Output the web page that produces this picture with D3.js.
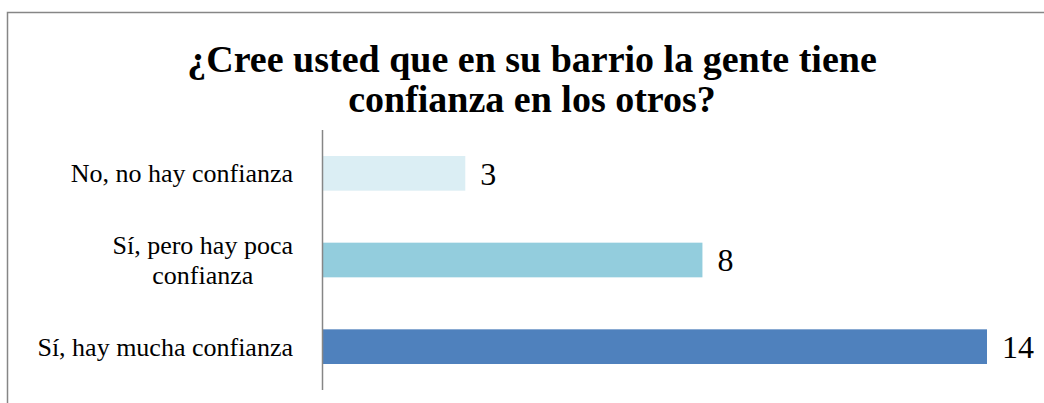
<!DOCTYPE html>
<html>
<head>
<meta charset="utf-8">
<script src="https://cdn.jsdelivr.net/npm/d3@7"></script>
<style>
  body { margin: 0; background: #fff; }
  text { font-family: "Liberation Serif", "Times New Roman", serif; fill: #000; }
</style>
</head>
<body>
<div id="chart"></div>
<script>
// chart data
var categories = ['No, no hay confianza', 'Sí, pero hay poca confianza', 'Sí, hay mucha confianza'];
var labelLines = [['No, no hay confianza'], ['Sí, pero hay poca', 'confianza'], ['Sí, hay mucha confianza']];
var values = [3, 8, 14];
var colors = ['#dbeef4', '#93cddd', '#4f81bd'];
var titleLines = ['¿Cree usted que en su barrio la gente tiene', 'confianza en los otros?'];

var width = 1044, height = 403;

var svg = d3.select('#chart')
  .append('svg')
  .attr('width', width)
  .attr('height', height);

// outer chart border (cut off on right and bottom)
svg.append('rect')
  .attr('x', 7.5).attr('y', 12.5)
  .attr('width', 1100).attr('height', 500)
  .attr('fill', 'none')
  .attr('stroke', '#868686')
  .attr('stroke-width', 1.5);

// title
svg.append('g').selectAll('text')
  .data(titleLines)
  .enter().append('text')
  .attr('x', 532)
  .attr('y', function(d, i) { return 72 + i * 40; })
  .attr('text-anchor', 'middle')
  .style('font-size', '38px')
  .style('font-weight', 'bold')
  .text(function(d) { return d; });

// scales
var x = d3.scaleLinear().domain([0, 14]).range([323, 987]);
var y = d3.scaleBand().domain(categories).range([130, 390]).paddingInner(0.6).paddingOuter(0.3);

// bars
svg.append('g').selectAll('rect')
  .data(values)
  .enter().append('rect')
  .attr('x', x(0))
  .attr('y', function(d, i) { return y(categories[i]); })
  .attr('width', function(d) { return x(d) - x(0); })
  .attr('height', y.bandwidth())
  .attr('fill', function(d, i) { return colors[i]; });

// value labels
svg.append('g').selectAll('text')
  .data(values)
  .enter().append('text')
  .attr('x', function(d) { return x(d) + 15; })
  .attr('y', function(d, i) { return y(categories[i]) + y.bandwidth() / 2; })
  .attr('dy', '0.35em')
  .style('font-size', '32px')
  .text(function(d) { return d; });

// category labels, wrapped ones centred in the label box
var labelRight = 293;
var catG = svg.append('g');
labelLines.forEach(function(lines, i) {
  var cy = y(categories[i]) + y.bandwidth() / 2;
  var lh = 30;
  var t = catG.append('text')
    .style('font-size', '26px')
    .attr('text-anchor', 'middle');
  lines.forEach(function(line, j) {
    t.append('tspan')
      .attr('y', cy + (j - (lines.length - 1) / 2) * lh)
      .attr('dy', '0.35em')
      .text(line);
  });
  var maxW = 0;
  t.selectAll('tspan').each(function() { maxW = Math.max(maxW, this.getComputedTextLength()); });
  t.selectAll('tspan').attr('x', labelRight - maxW / 2);
});

// vertical category axis line
svg.append('line')
  .attr('x1', 322.5).attr('x2', 322.5)
  .attr('y1', y.range()[0]).attr('y2', y.range()[1])
  .attr('stroke', '#868686')
  .attr('stroke-width', 1.5);
</script>
</body>
</html>
